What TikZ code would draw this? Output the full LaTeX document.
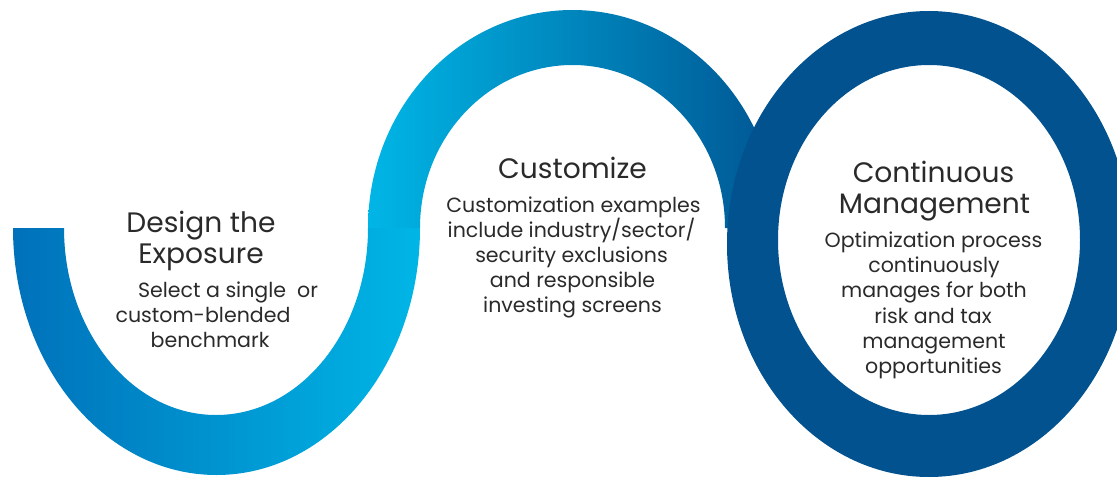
\documentclass[tikz,border=0pt]{standalone}
\usepackage{fontspec}
\setmainfont{Poppins}
\definecolor{uL}{HTML}{0071BA}
\definecolor{uR}{HTML}{00B6E6}
\definecolor{aL}{HTML}{00B6E6}
\definecolor{aR}{HTML}{005693}
\definecolor{ringc}{HTML}{02528F}
\definecolor{txtc}{HTML}{2A2A2A}
\begin{document}
\begin{tikzpicture}[x=0.02cm,y=-0.02cm,
  txt/.style={text=txtc,anchor=base,inner sep=0pt},
  ttl/.style={txt,font=\fontsize{16}{18}\selectfont},
  bdy/.style={txt,font=\fontsize{11.7}{14}\selectfont}]
\clip (0,0) rectangle (1117,477);
\useasboundingbox (0,0) rectangle (1117,477);
% left U band
\shade[left color=uL,right color=uR] (420,228)
  arc[start angle=0,end angle=180,x radius=203.5,y radius=247] -- (64,228)
  arc[start angle=180,end angle=0,x radius=152,y radius=187] -- cycle;
% top arch band
\shade[left color=aL,right color=aR] (368,228)
  arc[start angle=180,end angle=360,x radius=204.5,y radius=218] -- (725,228)
  arc[start angle=0,end angle=-180,x radius=152.5,y radius=163] -- cycle;
% ring
\fill[ringc,even odd rule] (929,244) ellipse[x radius=202,y radius=233]
  (929,240) ellipse[x radius=151,y radius=175];
% texts: Design the Exposure
\node[ttl] (d1) at (201,232) {Design the};
\node[ttl] (d2) at (201,263) {Exposure};
\node[bdy] (d3) at (228,297) {Select a single\ \ or};
\node[bdy] (d4) at (203,322) {custom-blended};
\node[bdy] (d5) at (210,347) {benchmark};
% Customize
\node[ttl] (c1) at (572.5,178) {Customize};
\node[bdy] (c2) at (573.5,212) {Customization examples};
\node[bdy] (c3) at (571.5,237) {include industry/sector/};
\node[bdy] (c4) at (571.5,262) {security exclusions};
\node[bdy] (c5) at (572.5,287) {and responsible};
\node[bdy] (c6) at (572.5,312) {investing screens};
% Continuous Management
\node[ttl] (m1) at (933.5,182) {Continuous};
\node[ttl] (m2) at (934.5,213) {Management};
\node[bdy] (m3) at (933.5,247) {Optimization process};
\node[bdy] (m4) at (934,272) {continuously};
\node[bdy] (m5) at (934,297) {manages for both};
\node[bdy] (m6) at (933,323) {risk and tax};
\node[bdy] (m7) at (934,348) {management};
\node[bdy] (m8) at (933.5,373) {opportunities};
\end{tikzpicture}
\end{document}
